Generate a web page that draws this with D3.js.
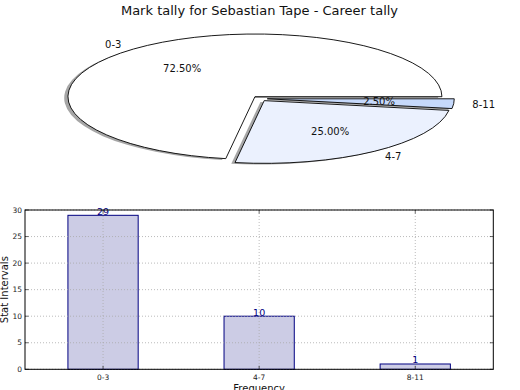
<!DOCTYPE html>
<html><head><meta charset="utf-8">
<script src="https://cdn.jsdelivr.net/npm/d3@7"></script>
<style>body{margin:0;background:#fff}svg{display:block;font-family:"DejaVu Sans",sans-serif}</style>
</head><body>
<svg id="c" width="520" height="390"></svg>
<script>
const categories = ["0-3", "4-7", "8-11"];
const counts = [29, 10, 1];
const sliceColors = ["#ffffff", "#ebf1fe", "#c6d9fb"];
const yTicks = [0, 5, 10, 15, 20, 25, 30];
const title = "Mark tally for Sebastian Tape - Career tally";

const svg = d3.select("#c");

// title
svg.append("text").attr("x", 259.5).attr("y", 15).attr("text-anchor", "middle")
  .attr("font-size", 13).attr("fill", "#111").text(title);

// ---------- Pie (elliptical, exploded, shadow) ----------
const cx = 259.8, cy = 98.6, rx = 187, ry = 62.7, explode = 0.04;
const total = d3.sum(counts);
const pie = d3.pie().sort(null).startAngle(Math.PI / 2).endAngle(Math.PI / 2 - 2 * Math.PI);
const arcs = pie(counts);
const arcGen = d3.arc().innerRadius(0).outerRadius(1);
const pg = svg.append("g").attr("transform", `translate(${cx},${cy})`);

function dirOf(a) { const m = (a.startAngle + a.endAngle) / 2; return [Math.sin(m), -Math.cos(m)]; }

// shadows
arcs.forEach((a, i) => {
  const [dx, dy] = dirOf(a);
  pg.append("path").attr("d", arcGen(a))
    .attr("transform", `translate(${(dx * explode - 0.02) * rx},${(dy * explode + 0.02) * ry}) scale(${rx},${ry})`)
    .attr("fill", "#4d4d4d").attr("fill-opacity", 0.5).attr("stroke", "none");
});
// wedges
arcs.forEach((a, i) => {
  const [dx, dy] = dirOf(a);
  pg.append("path").attr("d", arcGen(a))
    .attr("transform", `translate(${dx * explode * rx},${dy * explode * ry}) scale(${rx},${ry})`)
    .attr("fill", sliceColors[i]).attr("stroke", "#000").attr("stroke-width", 0.9)
    .attr("vector-effect", "non-scaling-stroke").attr("stroke-linejoin", "miter");
});
// labels
arcs.forEach((a, i) => {
  const [dx, dy] = dirOf(a);
  const ox = dx * explode, oy = dy * explode;
  const lx = (ox + dx * 1.1) * rx, ly = (oy + dy * 1.1) * ry;
  pg.append("text").attr("x", lx).attr("y", ly).attr("dy", "0.35em")
    .attr("text-anchor", dx < 0 ? "end" : "start").attr("font-size", 10).attr("fill", "#111")
    .text(categories[i]);
  const px = (ox + dx * 0.6) * rx, py = (oy + dy * 0.6) * ry;
  pg.append("text").attr("x", px).attr("y", py).attr("dy", "0.35em")
    .attr("text-anchor", "middle").attr("font-size", 10).attr("fill", "#111")
    .text((counts[i] / total * 100).toFixed(2) + "%");
});

// ---------- Bar chart ----------
const L = 25, R = 493.3, T = 210, B = 369.3;
const x = d3.scaleLinear().domain([-0.5, 2.5]).range([L, R]);
const y = d3.scaleLinear().domain([0, 30]).range([B, T]);
const bw = 0.45;
const bg = svg.append("g");

// bars
bg.selectAll("rect.bar").data(counts).enter().append("rect")
  .attr("x", (d, i) => x(i - bw / 2)).attr("width", (d, i) => x(i + bw / 2) - x(i - bw / 2))
  .attr("y", d => y(d)).attr("height", d => y(0) - y(d))
  .attr("fill", "#ccccE5").attr("stroke", "#000080").attr("stroke-width", 1);

// grid
const grid = bg.append("g").attr("stroke", "#aaa").attr("stroke-width", 0.8).attr("stroke-dasharray", "1,2");
yTicks.forEach(t => grid.append("line").attr("x1", L).attr("x2", R).attr("y1", y(t)).attr("y2", y(t)));
categories.forEach((c, i) => grid.append("line").attr("x1", x(i)).attr("x2", x(i)).attr("y1", T).attr("y2", B));

// value labels
bg.selectAll("text.val").data(counts).enter().append("text")
  .attr("x", (d, i) => x(i)).attr("y", d => y(d) - 0.5).attr("text-anchor", "middle")
  .attr("font-size", 9.5).attr("fill", "#000080").text(d => d);

// frame
bg.append("rect").attr("x", L).attr("y", T).attr("width", R - L).attr("height", B - T)
  .attr("fill", "none").attr("stroke", "#000").attr("stroke-width", 1);

// ticks (inward, all sides)
const tk = bg.append("g").attr("stroke", "#000").attr("stroke-width", 0.6);
yTicks.forEach(t => {
  tk.append("line").attr("x1", L).attr("x2", L + 3.5).attr("y1", y(t)).attr("y2", y(t));
  tk.append("line").attr("x1", R).attr("x2", R - 3.5).attr("y1", y(t)).attr("y2", y(t));
});
categories.forEach((c, i) => {
  tk.append("line").attr("x1", x(i)).attr("x2", x(i)).attr("y1", B).attr("y2", B - 3.5);
  tk.append("line").attr("x1", x(i)).attr("x2", x(i)).attr("y1", T).attr("y2", T + 3.5);
});

// tick labels
yTicks.forEach(t => bg.append("text").attr("x", L - 3).attr("y", y(t)).attr("dy", "0.35em")
  .attr("text-anchor", "end").attr("font-size", 7.5).attr("fill", "#222").text(t));
categories.forEach((c, i) => bg.append("text").attr("x", x(i)).attr("y", B + 11)
  .attr("text-anchor", "middle").attr("font-size", 7.5).attr("fill", "#222").text(c));

// axis labels
bg.append("text").attr("transform", `translate(8,${(T + B) / 2}) rotate(-90)`)
  .attr("text-anchor", "middle").attr("font-size", 10).attr("fill", "#111").text("Stat Intervals");
bg.append("text").attr("x", (L + R) / 2).attr("y", 392).attr("text-anchor", "middle")
  .attr("font-size", 10).attr("fill", "#111").text("Frequency");
</script>
</body></html>
